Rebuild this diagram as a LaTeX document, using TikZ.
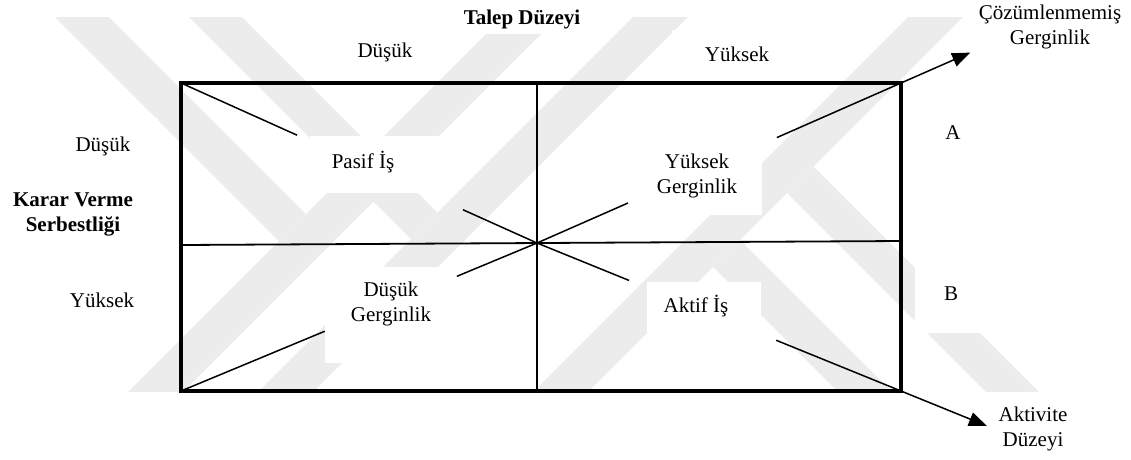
\documentclass[tikz,border=0pt]{standalone}
\usepackage{fontspec}
\setmainfont{Liberation Serif}
\usetikzlibrary{calc,arrows.meta}

% two centred lines, baseline at the first line
\newcommand{\stacklines}[2]{\begin{tabular}[t]{@{}c@{}}#1\\#2\end{tabular}}

\definecolor{wmgray}{gray}{0.925}

\begin{document}
\begin{tikzpicture}[x=1pt,y=-1pt,
  lbl/.style={inner sep=0pt,anchor=base,font=\fontsize{21}{25}\selectfont},
  boldlbl/.style={lbl,font=\fontsize{21}{25}\selectfont\bfseries},
  frame/.style={line width=4pt,line join=miter},
  divider/.style={line width=1.8pt},
  ray/.style={line width=1.5pt},
  outarrow/.style={ray,-{Triangle[length=18pt,width=14pt]}},
  band/.style={fill=wmgray,draw=none},
  blank/.style={fill=white,draw=none}]
\useasboundingbox (0,0) rectangle (1131,459);

% faint background bands
\fill[band] (55,17) -- (109,17) -- (306,214) -- (279,241) -- cycle;
\fill[band] (503,17) -- (558,17) -- (183,392) -- (128,392) -- cycle;
\fill[band] (189,17) -- (242,17) -- (437.5,212.5) -- (411,239) -- cycle;
\fill[band] (633,17) -- (688,17) -- (313,392) -- (258,392) -- cycle;
\fill[band] (908,17) -- (963,17) -- (588,392) -- (533,392) -- cycle;
\fill[band] (713,267) -- (740,240) -- (892,392) -- (838,392) -- cycle;
\fill[band] (787,193) -- (813.5,166.5) -- (1039,392) -- (986,392) -- cycle;

% white grounds behind the labels
\fill[blank] (310,136) rectangle (447,193);
\fill[blank] (636,140) rectangle (762,215);
\fill[blank] (325,267) rectangle (457,363);
\fill[blank] (647,282) rectangle (761,347);
\fill[blank] (0,118) rectangle (158,330);
\fill[blank] (915,90) rectangle (1131,333);
\fill[blank] (330,35) rectangle (440,75);
\fill[blank] (672,30) rectangle (800,78);
\fill[blank] (440,0) rectangle (610,34);

% corners, dividers and the centre of the grid
\coordinate (TL) at (181,83);
\coordinate (TR) at (901,83);
\coordinate (BL) at (181,391);
\coordinate (BR) at (901,391);
\coordinate (TM) at (537,83);
\coordinate (BM) at (537,391);
\coordinate (ML) at (181,245);
\coordinate (MR) at (901,241);
\coordinate (C)  at (537,243);

% axis titles and levels
\node[boldlbl] (talep) at (522,24) {Talep Düzeyi};
\node[lbl] (tdusuk) at (385,57) {Düşük};
\node[lbl] (tyuksek) at (737,61) {Yüksek};
\node[boldlbl] (karar) at (73,206) {\stacklines{Karar Verme}{Serbestliği}};
\node[lbl] (ldusuk) at (103,151) {Düşük};
\node[lbl] (lyuksek) at (102,307) {Yüksek};

% cell labels
\node[lbl] (pasif) at (363,168) {Pasif İş};
\node[lbl] (yg) at (697,168) {\stacklines{Yüksek}{Gerginlik}};
\node[lbl] (dg) at (391,296) {\stacklines{Düşük}{Gerginlik}};
\node[lbl] (aktif) at (696,312) {Aktif İş};

% right-hand labels
\node[lbl] (rowA) at (953,139) {A};
\node[lbl] (rowB) at (951,300) {B};
\node[lbl] (cozum) at (1050,19) {\stacklines{Çözümlenmemiş}{Gerginlik}};
\node[lbl] (aktivite) at (1033,421) {\stacklines{Aktivite}{Düzeyi}};

% dividers
\draw[divider] (TM) -- (BM);
\draw[divider] (ML) -- (MR);

% rays from the corners towards the centre, broken around the cell labels
\coordinate (ulA) at ($(TL)!0.326!(C)$);
\coordinate (ulB) at ($(TL)!0.792!(C)$);
\coordinate (urA) at ($(TR)!0.341!(C)$);
\coordinate (urB) at ($(TR)!0.750!(C)$);
\coordinate (llA) at ($(BL)!0.404!(C)$);
\coordinate (llB) at ($(BL)!0.775!(C)$);
\coordinate (lrA) at ($(BR)!0.343!(C)$);
\coordinate (lrB) at ($(BR)!0.747!(C)$);
\coordinate (urTip) at ($(TR)!-0.19!(C)$);
\coordinate (lrTip) at ($(BR)!-0.236!(C)$);

\draw[ray] (TL) -- (ulA);
\draw[ray] (ulB) -- (C);
\draw[ray] (urB) -- (C);
\draw[ray] (llA) -- (BL);
\draw[ray] (llB) -- (C);
\draw[ray] (lrB) -- (C);
\draw[outarrow] (urA) -- (urTip);
\draw[outarrow] (lrA) -- (lrTip);

% outer frame
\draw[frame] (TL) rectangle (BR);
\end{tikzpicture}
\end{document}
